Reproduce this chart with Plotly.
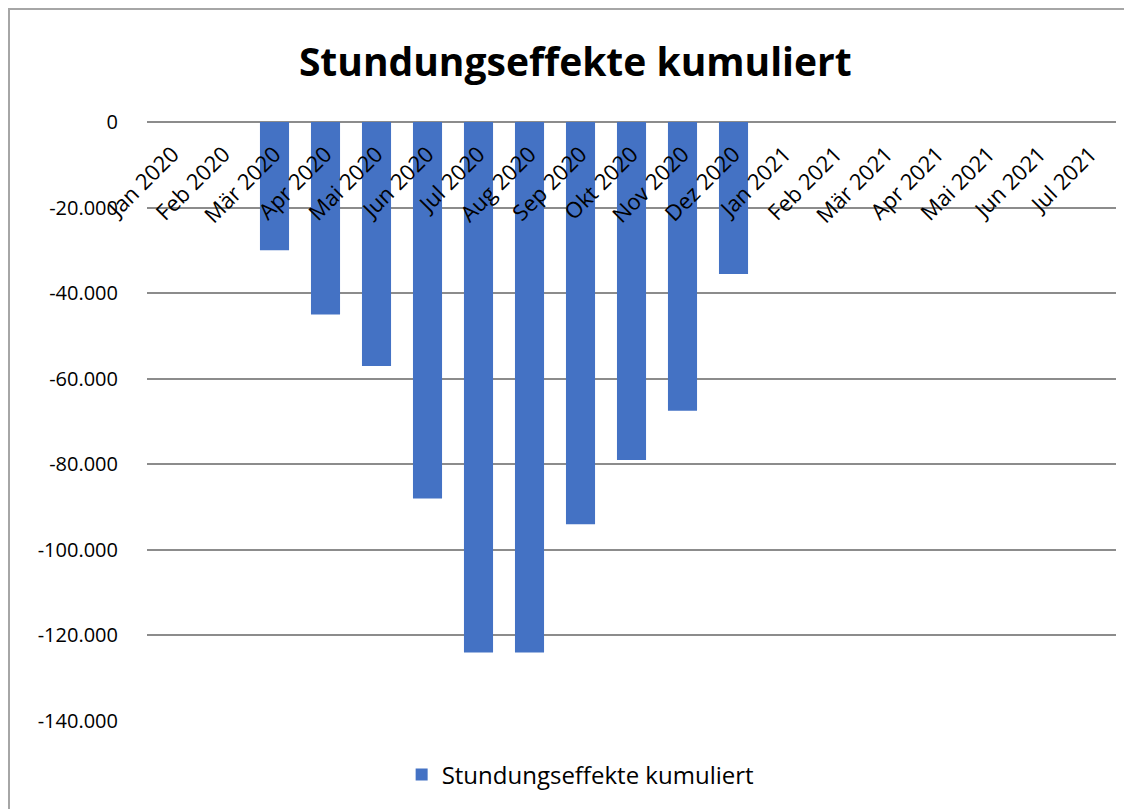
import plotly.graph_objects as go

categories = ["Jan 2020", "Feb 2020", "Mär 2020", "Apr 2020", "Mai 2020", "Jun 2020",
              "Jul 2020", "Aug 2020", "Sep 2020", "Okt 2020", "Nov 2020", "Dez 2020",
              "Jan 2021", "Feb 2021", "Mär 2021", "Apr 2021", "Mai 2021", "Jun 2021",
              "Jul 2021"]
values = [None, None, -30000, -45000, -57000, -88000, -124000, -124000, -94000,
          -79000, -67500, -35500, None, None, None, None, None, None, None]
series_name = "Stundungseffekte kumuliert"
y_ticks = [0, -20000, -40000, -60000, -80000, -100000, -120000, -140000]
y_tick_labels = ["0", "-20.000", "-40.000", "-60.000", "-80.000", "-100.000", "-120.000", "-140.000"]

FONT = "Open Sans"

fig = go.Figure()
fig.add_trace(go.Bar(
    x=categories, y=values, name=series_name,
    marker=dict(color="#4472C4", line=dict(width=0)),
    showlegend=True,
))

fig.update_layout(
    width=1124, height=801,
    margin=dict(l=139, r=16, t=114, b=88),
    paper_bgcolor="white", plot_bgcolor="white",
    bargap=0.43,
    font=dict(family=FONT, color="black", size=20),
    title=dict(text="<b>Stundungseffekte kumuliert</b>", font=dict(family=FONT, size=39, color="black"),
               x=0.442, xanchor="center", xref="paper", y=1 - 54 / 801, yref="container", yanchor="middle"),
    legend=dict(orientation="h", x=0.447, xanchor="center", y=-0.09, yanchor="middle",
                font=dict(family=FONT, size=24, color="black"), itemwidth=30),
    shapes=[dict(type="rect", xref="paper", yref="paper",
                 x0=-138 / 969, x1=1.05, y0=-0.3, y1=1 + 113 / 599,
                 line=dict(color="#a6a6a6", width=2), fillcolor="rgba(0,0,0,0)", layer="below")],
)

fig.update_xaxes(
    type="category", categoryorder="array", categoryarray=categories,
    anchor="free", position=1, side="bottom",
    tickangle=-45, ticks="", showline=False, showgrid=False,
    tickfont=dict(family=FONT, size=22, color="black"),
    ticklabelstandoff=14,
)
fig.update_yaxes(
    range=[-140000, 0], tickvals=y_ticks, ticktext=y_tick_labels,
    showgrid=True, gridcolor="#8c8c8c", gridwidth=2,
    zeroline=True, zerolinecolor="#8c8c8c", zerolinewidth=2,
    showline=False, ticks="", ticklabelstandoff=28,
    tickfont=dict(family=FONT, size=20, color="black"),
)

fig.write_html("out.html")
